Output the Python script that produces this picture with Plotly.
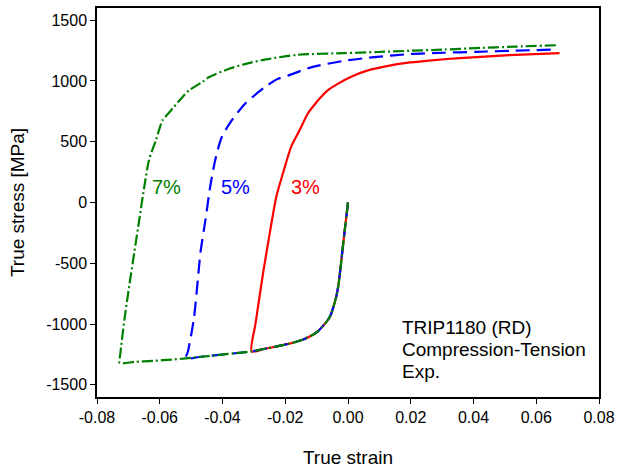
import plotly.graph_objects as go

# Shared compression branch (strain, stress in MPa)
comp_strain = [0.0, -0.001, -0.002, -0.003, -0.0037, -0.0046, -0.0055, -0.0068, -0.0081,
               -0.0095, -0.0112, -0.0135, -0.016, -0.019, -0.0223, -0.0265, -0.0307,
               -0.036, -0.042, -0.0475, -0.0517, -0.056, -0.062, -0.068, -0.0728]
comp_stress = [0, -220, -450, -670, -770, -855, -925, -980, -1019,
               -1058, -1088, -1118, -1142, -1163, -1182, -1203, -1225,
               -1240, -1256, -1271, -1283, -1292, -1302, -1311, -1320]

# Reversal (tension) branches
red_strain = [-0.0295, -0.0286, -0.027, -0.0249, -0.0228, -0.0207, -0.0181, -0.0154, -0.0128,
              -0.0105, -0.0086, -0.0065, -0.0033, 0.0019, 0.0061, 0.012, 0.0198, 0.0275,
              0.0356, 0.0435, 0.0514, 0.0595, 0.0674]
red_stress = [-1000, -843, -571, -246, 53, 243, 460, 596, 732,
              810, 867, 922, 976, 1044, 1085, 1120, 1152, 1172,
              1188, 1200, 1212, 1220, 1228]

blue_strain = [-0.051, -0.0491, -0.047, -0.0454, -0.0439, -0.0423, -0.0402, -0.037, -0.0328,
               -0.0265, -0.0223, -0.0191, -0.0118, -0.0012, 0.0093, 0.0198, 0.0305, 0.0409,
               0.053, 0.0655]
blue_stress = [-1223, -952, -408, -137, 134, 352, 541, 677, 813,
               949, 1017, 1044, 1112, 1166, 1198, 1221, 1232, 1239,
               1249, 1258]

green_strain = [-0.0726, -0.0712, -0.0697, -0.0681, -0.0665, -0.0649, -0.0634, -0.0612, -0.0591,
                -0.057, -0.0555, -0.053, -0.0507, -0.0465, -0.0444, -0.0381, -0.032, -0.0255,
                -0.016, -0.0012, 0.0093, 0.0198, 0.0305, 0.0409, 0.053, 0.0667]
green_stress = [-1251, -952, -680, -408, -137, 134, 352, 514, 677,
                740, 786, 860, 922, 990, 1030, 1098, 1145, 1180,
                1215, 1229, 1238, 1248, 1258, 1270, 1282, 1294]

# reversal point index in the compression branch for each pre-strain
rev_idx = {"3%": 16, "5%": 20, "7%": 24}

series = [
    ("3%", red_strain, red_stress, "rgb(255,0,0)", "solid"),
    ("5%", blue_strain, blue_stress, "rgb(0,0,255)", "14px,7px"),
    ("7%", green_strain, green_stress, "rgb(0,128,0)", "11px,3px,2px,3px"),
]

label_x = {"3%": -0.0135, "5%": -0.0359, "7%": -0.0578}
label_y = 130

fig = go.Figure()
for name, xs, ys, col, dash in series:
    k = rev_idx[name]
    x = comp_strain[:k + 1] + xs
    y = comp_stress[:k + 1] + ys
    fig.add_trace(go.Scatter(x=x, y=y, mode="lines", name=name,
                             line=dict(color=col, width=2.2, dash=dash, shape="spline", smoothing=0.7),
                             showlegend=False))
    fig.add_annotation(x=label_x[name], y=label_y, text=name, showarrow=False,
                       font=dict(size=20, color=col), xanchor="center", yanchor="middle")

info_lines = ["TRIP1180 (RD)", "Compression-Tension", "Exp."]
info_y = [-1029, -1208, -1387]
for t, yy in zip(info_lines, info_y):
    fig.add_annotation(x=0.0165, y=yy, text=t, showarrow=False,
                       font=dict(size=19, color="black"), xanchor="left", yanchor="middle")

axis_common = dict(showline=True, linecolor="black", linewidth=1.5, mirror=True,
                   ticks="outside", ticklen=5, tickcolor="black", tickwidth=1,
                   showgrid=False, zeroline=False,
                   tickfont=dict(size=16, color="black", family="Liberation Sans, Arial"))

fig.update_xaxes(range=[-0.08, 0.08], tickvals=[-0.08, -0.06, -0.04, -0.02, 0, 0.02, 0.04, 0.06, 0.08],
                 ticktext=["-0.08", "-0.06", "-0.04", "-0.02", "0.00", "0.02", "0.04", "0.06", "0.08"],
                 title=dict(text="True strain", font=dict(size=19, color="black"), standoff=26),
                 **axis_common)
fig.update_yaxes(range=[-1600, 1600], tickvals=[-1500, -1000, -500, 0, 500, 1000, 1500],
                 ticktext=["-1500", "-1000", "-500", "0", "500", "1000", "1500"],
                 title=dict(text="True stress [MPa]", font=dict(size=19, color="black"), standoff=16),
                 **axis_common)

fig.update_layout(width=621, height=471, plot_bgcolor="white", paper_bgcolor="white",
                  margin=dict(l=97, r=17, t=6, b=72),
                  font=dict(family="Liberation Sans, Arial", color="black"))

fig.write_html("out.html")
